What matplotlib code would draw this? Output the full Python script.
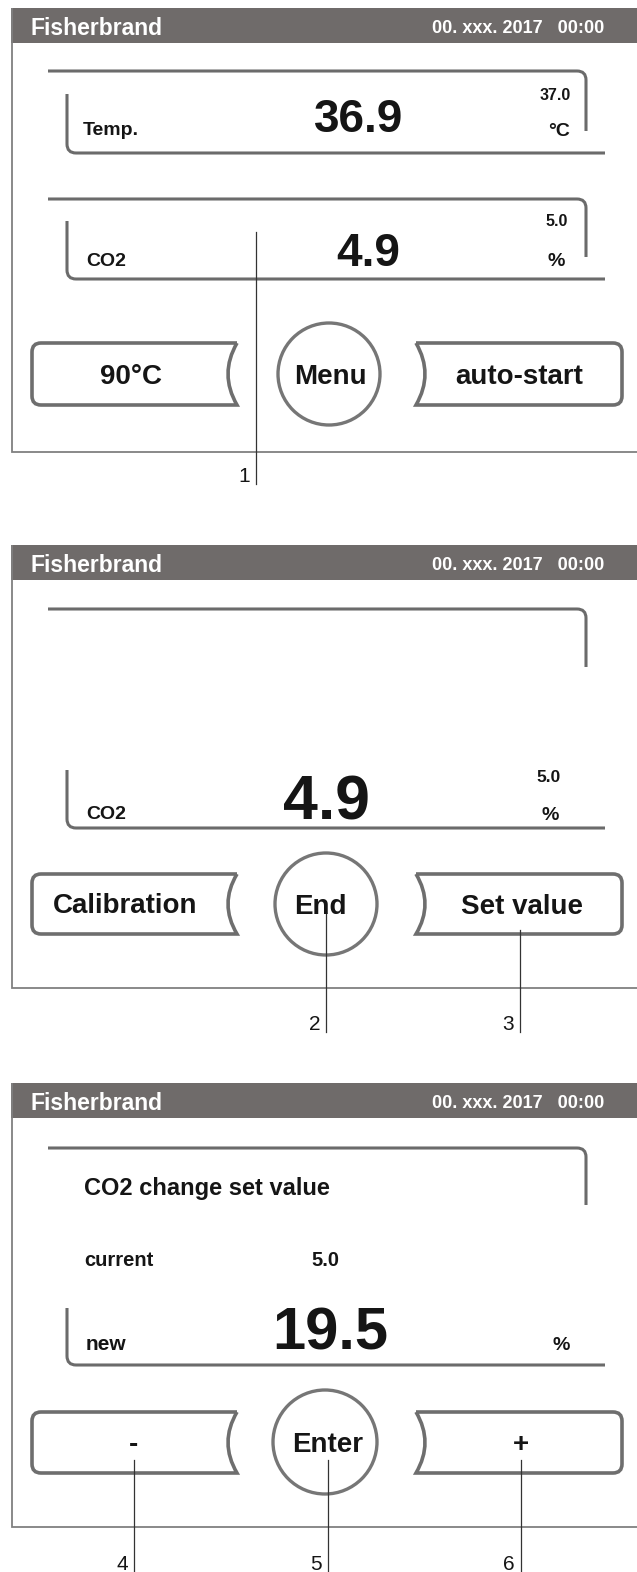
import matplotlib
matplotlib.use("Agg")
import matplotlib.pyplot as plt
from matplotlib.path import Path
from matplotlib.patches import PathPatch, Rectangle, Circle

# ---------------- data (texts shown on the three screens) ----------------
brand = "Fisherbrand"
datetime_text = "00. xxx. 2017   00:00"

p1_labels = ["Temp.", "CO2"]
p1_values = ["36.9", "4.9"]
p1_setpoints = ["37.0", "5.0"]
p1_units = ["°C", "%"]
p1_buttons = ["90°C", "Menu", "auto-start"]

p2_label = "CO2"
p2_value = "4.9"
p2_setpoint = "5.0"
p2_unit = "%"
p2_buttons = ["Calibration", "End", "Set value"]

p3_title = "CO2 change set value"
p3_current_label = "current"
p3_current_value = "5.0"
p3_new_label = "new"
p3_new_value = "19.5"
p3_unit = "%"
p3_buttons = ["-", "Enter", "+"]

callouts = ["1", "2", "3", "4", "5", "6"]

# ---------------- layout / style ----------------
W, H = 637, 1572
FONT = "Liberation Sans"
HEADER_COL = "#6f6b6a"
LINE_COL = "#6b6b6b"
FRAME_COL = "#808080"
TEXT_COL = "#151515"

fig = plt.figure(figsize=(W / 100, H / 100), dpi=100)
ax = fig.add_axes([0, 0, 1, 1])
ax.set_xlim(0, W)
ax.set_ylim(H, 0)
ax.axis("off")


def txt(x, y, s, size, ha="left", weight="bold", color=TEXT_COL):
    ax.text(x, y, s, fontsize=size, ha=ha, va="baseline", family=FONT,
            fontweight=weight, color=color)


def header(y0):
    ax.add_patch(Rectangle((11, y0), W - 11, 35, facecolor=HEADER_COL,
                           edgecolor="none"))
    txt(30, y0 + 27, brand, 16.5, color="white")
    txt(604, y0 + 25, datetime_text, 13, ha="right", color="white")


def frame(y0, yb):
    ax.plot([12, 12, W], [y0, yb, yb], color=FRAME_COL, lw=1.3,
            solid_capstyle="butt", solid_joinstyle="miter")


def path(verts, codes, lw=2.2, color=LINE_COL):
    ax.add_patch(PathPatch(Path(verts, codes), facecolor="none",
                           edgecolor=color, lw=lw, capstyle="butt"))


M, L, C3 = Path.MOVETO, Path.LINETO, Path.CURVE3


def top_bracket(yt, yb, r=9):
    path([(48, yt), (586 - r, yt), (586, yt), (586, yt + r), (586, yb)],
         [M, L, C3, C3, L])


def bottom_bracket(yt, yb, r=9):
    path([(67, yt), (67, yb - r), (67, yb), (67 + r, yb), (605, yb)],
         [M, L, C3, C3, L])


def left_button(yt, yb, x0=32, x1=237, r=9, d=9):
    ym = (yt + yb) / 2
    path([(x1, yt), (x0 + r, yt), (x0, yt), (x0, yt + r), (x0, yb - r),
          (x0, yb), (x0 + r, yb), (x1, yb), (x1 - 2 * d, ym), (x1, yt)],
         [M, L, C3, C3, L, C3, C3, L, C3, C3], lw=2.6, color="#6e6e6e")


def right_button(yt, yb, x0=416, x1=622, r=9, d=9):
    ym = (yt + yb) / 2
    path([(x0, yt), (x1 - r, yt), (x1, yt), (x1, yt + r), (x1, yb - r),
          (x1, yb), (x1 - r, yb), (x0, yb), (x0 + 2 * d, ym), (x0, yt)],
         [M, L, C3, C3, L, C3, C3, L, C3, C3], lw=2.6, color="#6e6e6e")


def circle_button(cx, cy, r=51):
    ax.add_patch(Circle((cx, cy), r, facecolor="white", edgecolor="#767676",
                        lw=2.4))


def leader(x, y0, y1, label):
    ax.plot([x, x], [y0, y1], color="#333333", lw=0.9)
    txt(x - 6, y1 - 2, label, 15, ha="right", weight="normal")


# ================= panel 1 =================
header(8)
frame(8, 452)
top_bracket(71, 131)
bottom_bracket(94, 153)
txt(83, 135, p1_labels[0], 14)
txt(359, 132, p1_values[0], 33, ha="center")
txt(555, 100, p1_setpoints[0], 11.5, ha="center")
txt(559, 136, p1_units[0], 14, ha="center")

top_bracket(199, 257)
bottom_bracket(221, 279)
txt(86, 266, p1_labels[1], 14)
txt(368, 266, p1_values[1], 33, ha="center")
txt(557, 226, p1_setpoints[1], 11.5, ha="center")
txt(556, 266, p1_units[1], 14, ha="center")

left_button(343, 405)
right_button(343, 405)
circle_button(329, 374)
txt(131, 384, p1_buttons[0], 20, ha="center")
txt(330, 384, p1_buttons[1], 20, ha="center")
txt(519, 384, p1_buttons[2], 20, ha="center")
leader(256, 232, 484, callouts[0])

# ================= panel 2 =================
header(545)
frame(545, 988)
top_bracket(609, 667)
bottom_bracket(770, 828)
txt(86, 819, p2_label, 14)
txt(326, 820, p2_value, 45, ha="center")
txt(549, 782, p2_setpoint, 12.5, ha="center")
txt(550, 820, p2_unit, 14, ha="center")

left_button(874, 934)
right_button(874, 934)
circle_button(326, 904)
txt(125, 913, p2_buttons[0], 20, ha="center")
txt(320, 914, p2_buttons[1], 20, ha="center")
txt(522, 914, p2_buttons[2], 20, ha="center")
leader(326, 913, 1032, callouts[1])
leader(520, 930, 1032, callouts[2])

# ================= panel 3 =================
header(1083)
frame(1083, 1527)
top_bracket(1148, 1205)
bottom_bracket(1308, 1365)
txt(84, 1195, p3_title, 17)
txt(84, 1266, p3_current_label, 14.5)
txt(325, 1266, p3_current_value, 14.5, ha="center")
txt(86, 1350, p3_new_label, 15)
txt(330, 1350, p3_new_value, 43, ha="center")
txt(561, 1350, p3_unit, 14, ha="center")

left_button(1412, 1473)
right_button(1412, 1473)
circle_button(325, 1442, r=52)
txt(134, 1452, p3_buttons[0], 20, ha="center")
txt(328, 1452, p3_buttons[1], 20, ha="center")
txt(521, 1452, p3_buttons[2], 20, ha="center")
leader(134, 1460, 1572, callouts[3])
leader(328, 1460, 1572, callouts[4])
leader(521, 1460, 1572, callouts[5])

fig.savefig("out.png", dpi=100, facecolor="white")
